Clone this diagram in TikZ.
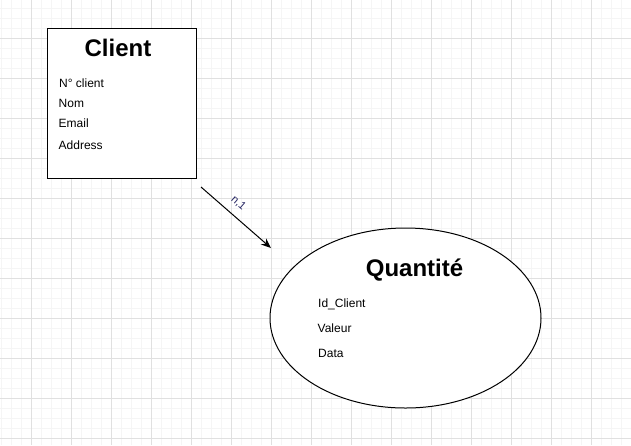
\documentclass[tikz,border=0pt]{standalone}
\usepackage{fontspec}
\setmainfont{Liberation Sans}
\usetikzlibrary{shapes.geometric,arrows.meta}
\definecolor{minorline}{RGB}{245,245,245}
\definecolor{majorline}{RGB}{224,224,224}
\definecolor{cardcolor}{RGB}{40,40,100}
\begin{document}
\begin{tikzpicture}[x=1pt,y=-1pt,
    minorgrid/.style={draw=minorline, line width=1pt},
    majorgrid/.style={draw=majorline, line width=1pt},
    entity/.style={draw, line width=1pt, fill=white, inner sep=0pt},
    title/.style={anchor=base, inner sep=0pt, font=\fontsize{24}{28}\selectfont\bfseries},
    attr/.style={anchor=base west, inner sep=0pt, font=\fontsize{12}{14}\selectfont},
    card/.style={inner sep=0pt, font=\fontsize{11}{13}\selectfont, text=cardcolor},
    link/.style={line width=1pt, -{Stealth[length=10pt,width=8pt]}}]
    \useasboundingbox (0,0) rectangle (631,445);
    % background grid
    \foreach \x in {1,11,...,631} \draw[minorgrid] (\x,0) -- (\x,445);
    \foreach \y in {8,18,...,445} \draw[minorgrid] (0,\y) -- (631,\y);
    \foreach \x in {31,71,...,631} \draw[majorgrid] (\x,0) -- (\x,445);
    \foreach \y in {38,78,...,445} \draw[majorgrid] (0,\y) -- (631,\y);
    % Client
    \node[entity, minimum width=149pt, minimum height=150pt] (client) at (121.5,103) {};
    \node[title] (clientTitle) at (118,56) {Client};
    \node[attr] (numClient) at (59,87) {N° client};
    \node[attr] (nom) at (58.5,107) {Nom};
    \node[attr] (email) at (58.5,127.5) {Email};
    \node[attr] (address) at (58.5,149) {Address};
    % Quantite
    \node[entity, ellipse, minimum width=271pt, minimum height=180pt] (quantite) at (405.5,318) {};
    \node[title] (quantiteTitle) at (414.5,276) {Quantité};
    \node[attr] (idClient) at (318,307.5) {Id\_Client};
    \node[attr] (valeur) at (317.5,332.5) {Valeur};
    \node[attr] (data) at (318,357.5) {Data};
    % link
    \coordinate (linkFrom) at (201,187);
    \coordinate (linkTo) at (271,248);
    \draw[link] (linkFrom) -- (linkTo);
    \node[card, rotate=-41] (cardLabel) at (238.5,203) {n,1};
\end{tikzpicture}
\end{document}
